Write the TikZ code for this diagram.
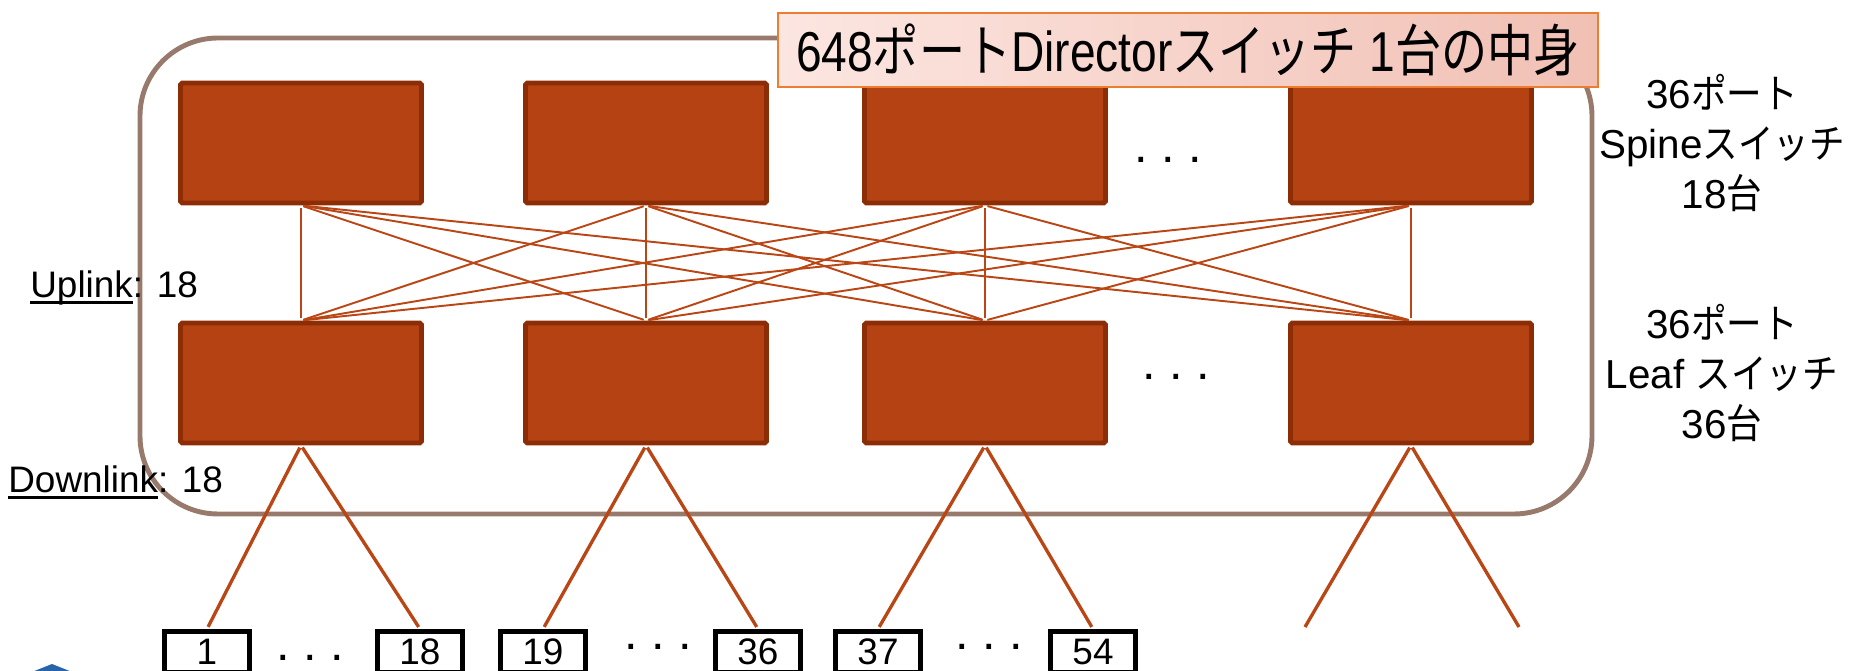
\documentclass[tikz,border=0pt]{standalone}
\usepackage{fontspec}
\setmainfont{Liberation Sans}
\newfontfamily\jp[FakeStretch=0.88]{Noto Sans CJK JP}
\newfontfamily\titlelat[FakeStretch=0.82]{Liberation Sans}
\newfontfamily\titlejp[FakeStretch=0.82]{Noto Sans CJK JP}
% underline with a heavier rule
\newcommand\ulword[1]{\setbox0\hbox{#1}\rlap{\rule[-3.2pt]{\wd0}{1.5pt}}\box0}

\definecolor{swfill}{RGB}{180,66,18}
\definecolor{swedge}{RGB}{140,45,5}
\definecolor{wire}{RGB}{185,70,20}
\definecolor{frame}{RGB}{152,122,108}
\definecolor{titleedge}{RGB}{237,125,49}
\definecolor{titleL}{RGB}{252,230,225}
\definecolor{titleR}{RGB}{241,192,180}
\definecolor{logo}{RGB}{40,100,170}

\begin{document}
\begin{tikzpicture}[x=0.02cm,y=-0.02cm,
  sw/.style={draw=swedge, fill=swfill, line width=2.8pt, rounded corners=1pt,
    minimum width=4.82cm, minimum height=2.4cm, inner sep=0pt},
  port/.style={draw=black, fill=white, line width=2.8pt, minimum width=1.7cm,
    minimum height=0.82cm, inner sep=0pt, font=\fontsize{21}{21}\selectfont},
  wire/.style={draw=wire, line width=1.1pt, shorten <=1.4pt, shorten >=1.4pt},
  drop/.style={draw=wire, line width=1.9pt, shorten <=1.4pt, shorten >=1.4pt},
  dots/.style={inner sep=0pt, font=\fontsize{27.7}{28}\selectfont}]
\useasboundingbox (0,0) rectangle (1854,671);
\clip (0,0) rectangle (1854,671);

% director chassis
\draw[frame, line width=2.8pt, rounded corners=1.56cm] (140,38) rectangle (1592,514);

% spine switches
\node[sw] (s1) at (301,143) {};
\node[sw] (s2) at (646,143) {};
\node[sw] (s3) at (985,143) {};
\node[sw] (s4) at (1411,143) {};
\node[dots] (sdots) at (1168,160) {.~.~.};

% leaf switches
\node[sw] (l1) at (301,383) {};
\node[sw] (l2) at (646,383) {};
\node[sw] (l3) at (985,383) {};
\node[sw] (l4) at (1411,383) {};
\node[dots] (ldots) at (1176,377) {.~.~.};

% full mesh between the two stages
\path[wire] (s1.south) -- (l1.north);
\path[wire] (s1.south) -- (l2.north);
\path[wire] (s1.south) -- (l3.north);
\path[wire] (s1.south) -- (l4.north);
\path[wire] (s2.south) -- (l1.north);
\path[wire] (s2.south) -- (l2.north);
\path[wire] (s2.south) -- (l3.north);
\path[wire] (s2.south) -- (l4.north);
\path[wire] (s3.south) -- (l1.north);
\path[wire] (s3.south) -- (l2.north);
\path[wire] (s3.south) -- (l3.north);
\path[wire] (s3.south) -- (l4.north);
\path[wire] (s4.south) -- (l1.north);
\path[wire] (s4.south) -- (l2.north);
\path[wire] (s4.south) -- (l3.north);
\path[wire] (s4.south) -- (l4.north);

% host ports
\node[port] (p1) at (207,652) {1};
\node[port] (p18) at (420,652) {18};
\node[port] (p19) at (543,652) {19};
\node[port] (p36) at (758,652) {36};
\node[port] (p37) at (878,652) {37};
\node[port] (p54) at (1093,652) {54};
\node[dots] (pdots1) at (310,658) {.~.~.};
\node[dots] (pdots2) at (658,647) {.~.~.};
\node[dots] (pdots3) at (989,647) {.~.~.};
\coordinate (q1) at (1305,627);
\coordinate (q2) at (1519,627);

% downlinks
\path[drop] (l1.south) -- (p1.north);
\path[drop] (l1.south) -- (p18.north);
\path[drop] (l2.south) -- (p19.north);
\path[drop] (l2.south) -- (p36.north);
\path[drop] (l3.south) -- (p37.north);
\path[drop] (l3.south) -- (p54.north);
\path[drop,shorten >=0pt] (l4.south) -- (q1);
\path[drop,shorten >=0pt] (l4.south) -- (q2);

% labels
\node[draw=titleedge, line width=1.1pt, left color=titleL, right color=titleR,
  minimum width=16.4cm, minimum height=1.48cm, inner sep=0pt,
  font=\fontsize{32}{32}\selectfont] (title) at (1188,50)
  {\titlelat 648{\titlejp ポート}Director{\titlejp スイッチ} 1{\titlejp 台の中身}};
\node[align=center, font=\fontsize{23}{28.5}\selectfont] (spinelbl) at (1722,143)
  {36{\jp ポート}\\Spine{\jp スイッチ}\\18{\jp 台}};
\node[align=center, font=\fontsize{23}{28.5}\selectfont] (leaflbl) at (1722,373)
  {36{\jp ポート}\\Leaf {\jp スイッチ}\\36{\jp 台}};
\node[anchor=base west, inner sep=0pt, font=\fontsize{21}{21}\selectfont] (up) at (30,298)
  {\ulword{Uplink}: 18};
\node[anchor=base west, inner sep=0pt, font=\fontsize{21}{21}\selectfont] (down) at (8,493)
  {\ulword{Downlink}: 18};

% corner of the logo
\fill[logo] (32,672) -- (52,664) -- (72,672) -- cycle;
\end{tikzpicture}
\end{document}
